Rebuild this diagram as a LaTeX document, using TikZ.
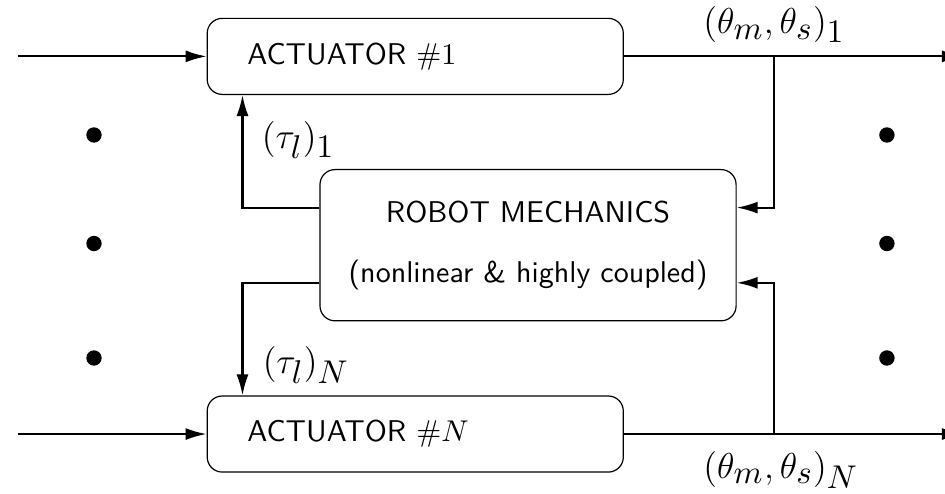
\documentclass[tikz,border=0pt]{standalone}
\usepackage{amssymb}
\usetikzlibrary{arrows,arrows.meta,positioning}
\DeclareMathSizes{12.5}{12.5}{11}{9}

\begin{document}
\begin{tikzpicture}[auto,
    blk/.style={draw, line width=0.4pt, rounded corners=5pt, font=\sffamily,
      minimum width=4.87cm, minimum height=0.89cm},
    actbox/.style={blk, text width=3.93cm, inner xsep=0.47cm, align=left},
    sig/.style={line width=0.7pt, -{Latex[length=7pt,width=4pt]}},
    lbl/.style={font=\fontsize{12.5}{15}\selectfont}]
        \useasboundingbox (0,0) rectangle (11.06,5.78);

        \node[actbox] (A1) at (4.86,5.12) {ACTUATOR $\#1$};
        \node[actbox] (AN) at (4.86,0.70) {ACTUATOR $\#N$};
        \node[blk, minimum height=1.77cm, align=center] (R) at (6.18,2.91)
          {ROBOT MECHANICS\\[8pt](nonlinear \& highly coupled)};

        \coordinate (in1) at (0.21,5.12);
        \coordinate (inN) at (0.21,0.70);
        \coordinate (out1) at (11.27,5.12);
        \coordinate (outN) at (11.27,0.70);
        \coordinate (b1) at (9.06,5.12);
        \coordinate (bN) at (9.06,0.70);

        \draw[sig] (in1) -- (A1);
        \draw[sig] (inN) -- (AN);
        \draw[sig] (A1) -- (out1);
        \draw[sig] (AN) -- (outN);
        \draw[sig] (b1) |- ([yshift=0.44cm]R.east);
        \draw[sig] (bN) |- ([yshift=-0.44cm]R.east);
        \draw[sig] ([yshift=0.44cm]R.west) -| ([xshift=0.42cm]A1.south west);
        \draw[sig] ([yshift=-0.44cm]R.west) -| ([xshift=0.42cm]AN.north west);

        \node[lbl] (tau1) at (3.49,4.14) {$(\tau_l)_1$};
        \node[lbl] (tauN) at (3.58,1.51) {$(\tau_l)_N$};
        \node[lbl] (th1) at (9.06,5.49) {$(\theta_m,\theta_s)_1$};
        \node[lbl] (thN) at (9.14,0.28) {$(\theta_m,\theta_s)_N$};

        % dots
        \foreach \y in {4.20,2.93,1.59} {
          \fill (1.10,\y) circle (0.09);
          \fill (10.38,\y) circle (0.09);
        }
      \end{tikzpicture}
\end{document}
